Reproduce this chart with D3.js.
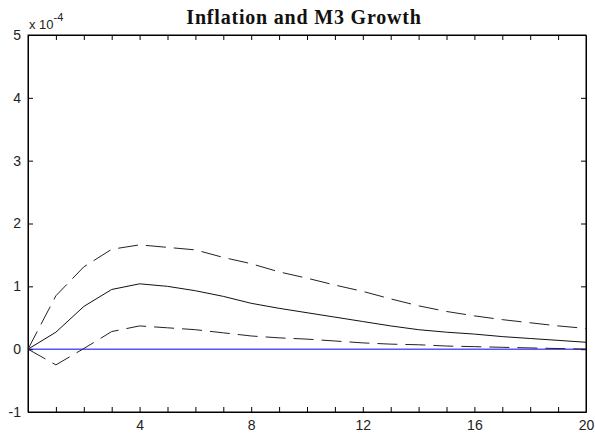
<!DOCTYPE html>
<html>
<head>
<meta charset="utf-8">
<script src="https://cdn.jsdelivr.net/npm/d3@7"></script>
<style>
  body { margin: 0; background: #fff; }
  text { font-family: "Liberation Sans", Arial, sans-serif; }
</style>
</head>
<body>
<div id="container"></div>
<script>
/* CONSTANTS AND GLOBALS */
const width = 595;
const height = 437;
const margin = { top: 35, right: 9, bottom: 25, left: 28 };

// DATA (values in units of 10^-4)
const horizon = [0, 1, 2, 3, 4, 5, 6, 7, 8, 9, 10, 11, 12, 13, 14, 15, 16, 17, 18, 19, 20];
const response = [0, 0.27, 0.68, 0.95, 1.04, 1.00, 0.93, 0.84, 0.73, 0.65, 0.58, 0.51, 0.44, 0.37, 0.31, 0.27, 0.24, 0.20, 0.17, 0.14, 0.11];
const upperBand = [0, 0.85, 1.31, 1.59, 1.66, 1.62, 1.58, 1.46, 1.36, 1.23, 1.13, 1.02, 0.92, 0.80, 0.69, 0.60, 0.53, 0.47, 0.42, 0.37, 0.33];
const lowerBand = [0, -0.25, 0.01, 0.28, 0.37, 0.34, 0.31, 0.26, 0.21, 0.18, 0.16, 0.13, 0.10, 0.08, 0.07, 0.05, 0.04, 0.03, 0.02, 0.01, 0.0];
const zeroLine = [0, 0];
const xTickLabels = [4, 8, 12, 16, 20];
const yTicks = [-1, 0, 1, 2, 3, 4, 5];

// CREATE SVG
const svg = d3.select("#container")
  .append("svg")
  .attr("width", width)
  .attr("height", height)
  .style("background-color", "white");

// SCALES
const xScale = d3.scaleLinear()
  .domain([0, 20])
  .range([margin.left, width - margin.right]);

const yScale = d3.scaleLinear()
  .domain([-1, 5])
  .range([height - margin.bottom, margin.top]);

// AXES (ticks point inward like MATLAB)
const xMinor = d3.range(1, 20);
const bottomAxis = d3.axisBottom(xScale)
  .tickValues(xMinor.concat([20]))
  .tickSizeInner(-5).tickSizeOuter(0)
  .tickFormat(d => xTickLabels.includes(d) ? d : "");

const topAxis = d3.axisTop(xScale)
  .tickValues(xMinor)
  .tickSizeInner(-5).tickSizeOuter(0)
  .tickFormat("");

const leftAxis = d3.axisLeft(yScale)
  .tickValues(yTicks)
  .tickSizeInner(-5).tickSizeOuter(0)
  .tickFormat(d => String(d));

const rightAxis = d3.axisRight(yScale)
  .tickValues(yTicks)
  .tickSizeInner(-5).tickSizeOuter(0)
  .tickFormat("");

const gx = svg.append("g")
  .attr("transform", `translate(0,${height - margin.bottom})`)
  .call(bottomAxis);
gx.selectAll("text").attr("dy", "1.05em").style("font-size", "14px");

svg.append("g")
  .attr("transform", `translate(0,${margin.top})`)
  .call(topAxis);

const gy = svg.append("g")
  .attr("transform", `translate(${margin.left},0)`)
  .call(leftAxis);
gy.selectAll("text").attr("x", -7).style("font-size", "14px");

svg.append("g")
  .attr("transform", `translate(${width - margin.right},0)`)
  .call(rightAxis);

svg.selectAll(".domain").attr("stroke", "black");
svg.selectAll(".tick line").attr("stroke", "black");
svg.selectAll(".tick text").attr("fill", "#222").attr("font-family", "Liberation Sans, Arial, sans-serif");

// FRAME
svg.append("rect")
  .attr("x", xScale(0))
  .attr("y", yScale(5))
  .attr("width", xScale(20) - xScale(0))
  .attr("height", yScale(-1) - yScale(5))
  .attr("fill", "none")
  .attr("stroke", "black");

// LINES
const line = d3.line()
  .x((d, i) => xScale(horizon[i]))
  .y(d => yScale(d));

svg.append("path")
  .datum(zeroLine)
  .attr("d", d3.line().x((d, i) => xScale(i * 20)).y(d => yScale(d)))
  .attr("fill", "none")
  .attr("stroke", "#0000ff")
  .attr("stroke-width", 1);

svg.append("path")
  .datum(upperBand)
  .attr("d", line)
  .attr("fill", "none")
  .attr("stroke", "#222")
  .attr("stroke-width", 1)
  .attr("stroke-dasharray", "20,8");

svg.append("path")
  .datum(lowerBand)
  .attr("d", line)
  .attr("fill", "none")
  .attr("stroke", "#222")
  .attr("stroke-width", 1)
  .attr("stroke-dasharray", "20,8");

svg.append("path")
  .datum(response)
  .attr("d", line)
  .attr("fill", "none")
  .attr("stroke", "#111")
  .attr("stroke-width", 1);

// SCALE FACTOR LABEL
const mult = svg.append("text")
  .attr("x", margin.left + 1)
  .attr("y", 29)
  .style("font-size", "13px")
  .attr("fill", "#222");
mult.append("tspan").text("x 10");
mult.append("tspan").attr("dy", -8).style("font-size", "11px").text("-4");

// TITLE
svg.append("text")
  .attr("x", 304)
  .attr("y", 24)
  .attr("text-anchor", "middle")
  .style("font-family", "Liberation Serif, Times New Roman, serif")
  .style("font-weight", "bold")
  .style("font-size", "20px")
  .style("letter-spacing", "0.8px")
  .attr("fill", "#111")
  .text("Inflation and M3 Growth");
</script>
</body>
</html>
